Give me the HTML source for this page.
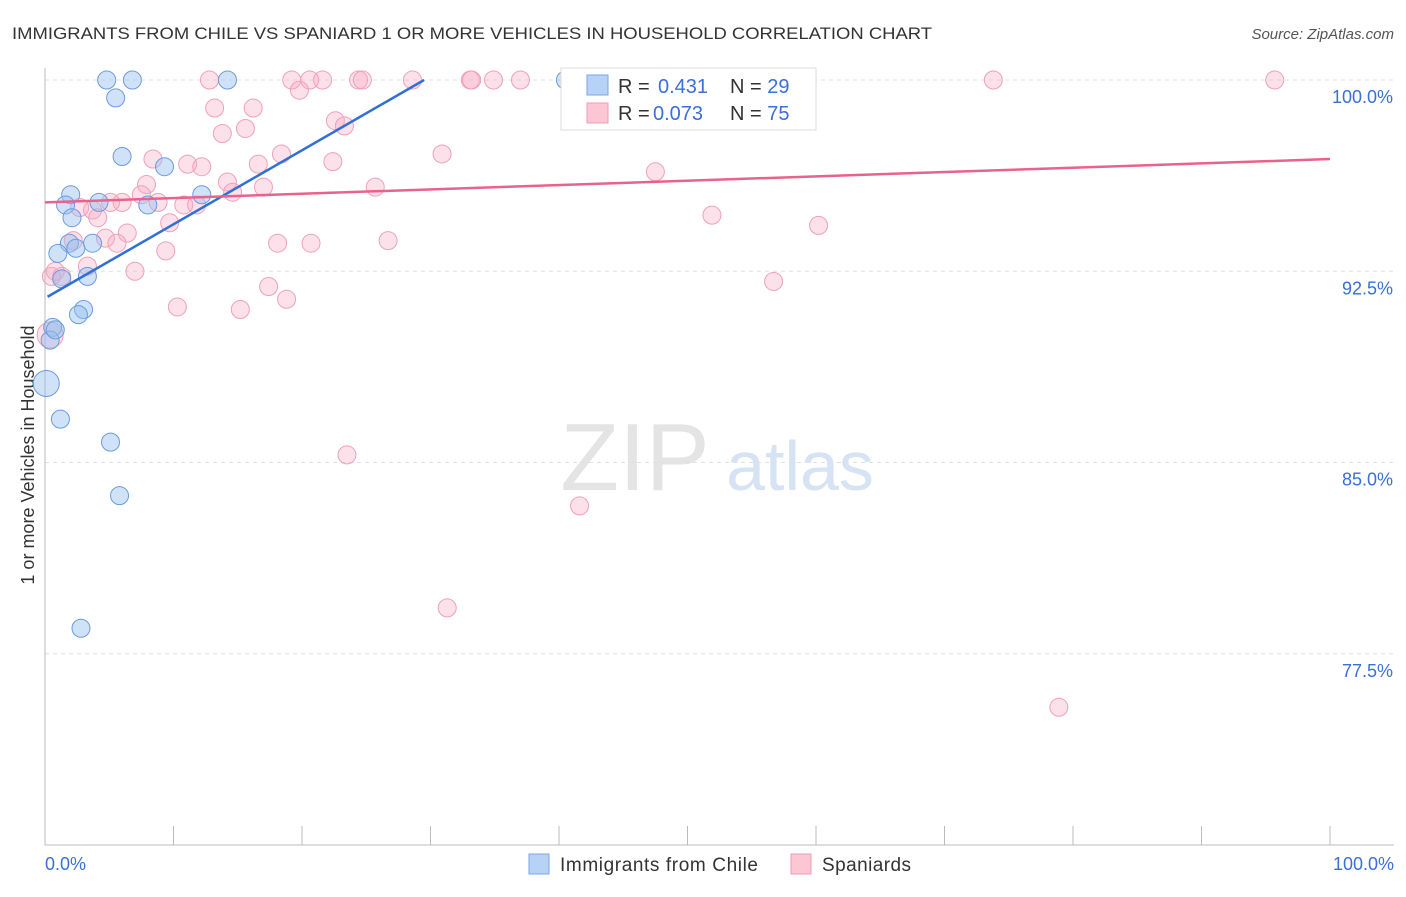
<!DOCTYPE html>
<html><head><meta charset="utf-8"><style>
body{margin:0;background:#fff;font-family:"Liberation Sans",sans-serif;}
svg text{font-family:"Liberation Sans",sans-serif;}
</style></head><body>
<svg id="chart" width="1406" height="892" xmlns="http://www.w3.org/2000/svg">
<text x="12" y="39" font-size="17" fill="#333" textLength="920" lengthAdjust="spacingAndGlyphs">IMMIGRANTS FROM CHILE VS SPANIARD 1 OR MORE VEHICLES IN HOUSEHOLD CORRELATION CHART</text>
<text x="1394" y="39" font-size="15" fill="#555" font-style="italic" text-anchor="end">Source: ZipAtlas.com</text>
<text x="635" y="490" font-size="96" fill="#e4e4e4" font-family="Liberation Serif" text-anchor="middle">ZIP</text>
<text x="800" y="490" font-size="70" fill="#d5e3f5" text-anchor="middle">atlas</text>
<text transform="translate(34,455) rotate(-90)" font-size="18" fill="#333" text-anchor="middle">1 or more Vehicles in Household</text>
<g id="grid"></g><g id="pts"></g><g id="lines"></g>
<g>
<rect x="561" y="68" width="255" height="62" fill="#fff" stroke="#ddd"/>
<rect x="587" y="75" width="21" height="20" fill="#b8d2f5" stroke="#7aa6e3"/>
<rect x="587" y="103" width="21" height="20" fill="#fcc6d5" stroke="#f19ab5"/>
<text x="618" y="93" font-size="20" fill="#333">R = <tspan x="658" fill="#3a6fd8">0.431</tspan></text>
<text x="730" y="93" font-size="20" fill="#333">N = <tspan fill="#3a6fd8">29</tspan></text>
<text x="618" y="120" font-size="20" fill="#333">R = <tspan x="653" fill="#3a6fd8">0.073</tspan></text>
<text x="730" y="120" font-size="20" fill="#333">N = <tspan fill="#3a6fd8">75</tspan></text>
</g>
<g>
<rect x="529" y="854" width="20" height="20" fill="#b8d2f5" stroke="#7aa6e3"/>
<text x="560" y="871" font-size="19" fill="#333" textLength="198">Immigrants from Chile</text>
<rect x="791" y="854" width="20" height="20" fill="#fcc6d5" stroke="#f19ab5"/>
<text x="822" y="871" font-size="19" fill="#333" textLength="89">Spaniards</text>
</g>
<text x="45" y="870" font-size="18" fill="#3a6fd8">0.0%</text>
<text x="1394" y="870" font-size="18" fill="#3a6fd8" text-anchor="end">100.0%</text>
</svg>
<script>
const yTicks=[100,92.5,85,77.5];
const yTickLabels=["100.0%","92.5%","85.0%","77.5%"];
const xTicks=[0,10,20,30,40,50,60,70,80,90,100];
const chileX=[4.8,6.8,14.2,40.5,5.5,6.0,9.3,2.0,8.0,4.2,1.6,12.2,2.1,1.9,3.7,2.4,1.0,3.3,1.3,3.0,2.6,0.6,0.4,0.1,1.2,5.1,5.8,2.8,0.8];
const chileY=[100,100,100,100,99.3,97.0,96.6,95.5,95.1,95.2,95.1,95.5,94.6,93.6,93.6,93.4,93.2,92.3,92.2,91.0,90.8,90.3,89.8,88.1,86.7,85.8,83.7,78.5,90.2];
const chileR=[9,9,9,9,9,9,9,9,9,9,9,9,9,9,9,9,9,9,9,9,9,9,9,13,9,9,9,9,9];
const spX=[12.8,19.2,20.6,21.6,24.4,24.7,28.6,33.1,33.2,34.9,37.0,45.3,47.5,58.8,73.8,95.7,19.8,13.2,16.2,13.8,15.6,22.6,23.3,8.4,11.1,12.2,18.4,16.6,22.4,30.9,47.5,7.9,17.0,25.7,14.2,14.6,7.5,6.0,8.8,10.8,11.8,2.7,3.7,5.1,4.1,51.9,60.2,6.4,4.7,2.2,5.6,9.7,9.4,18.1,20.7,26.7,3.3,7.0,17.4,18.8,15.2,10.3,1.3,0.5,0.8,0.4,56.7,23.5,41.6,31.3,78.9];
const spY=[100,100,100,100,100,100,100,100,100,100,100,100,100,100,100,100,99.6,98.9,98.9,97.9,98.1,98.4,98.2,96.9,96.7,96.6,97.1,96.7,96.8,97.1,96.4,95.9,95.8,95.8,96.0,95.6,95.5,95.2,95.2,95.1,95.1,95.0,94.9,95.2,94.6,94.7,94.3,94.0,93.8,93.7,93.6,94.4,93.3,93.6,93.6,93.7,92.7,92.5,91.9,91.4,91.0,91.1,92.3,92.3,92.5,90.0,92.1,85.3,83.3,79.3,75.4];
const spR=[9,9,9,9,9,9,9,9,9,9,9,9,9,9,9,9,9,9,9,9,9,9,9,9,9,9,9,9,9,9,9,9,9,9,9,9,9,9,9,9,9,9,9,9,9,9,9,9,9,9,9,9,9,9,9,9,9,9,9,9,9,9,9,9,9,13,9,9,9,9,9];
const chileLine=[[0.2,91.5],[29.5,100]];
const spLine=[[0,95.2],[100,96.9]];
const X=v=>45+v*12.85, Y=v=>80+(100-v)*25.5;
const ns="http://www.w3.org/2000/svg";
function mk(t,a,p){const e=document.createElementNS(ns,t);for(const k in a)e.setAttribute(k,a[k]);p.appendChild(e);return e;}
const grid=document.getElementById('grid');
yTicks.forEach((t,i)=>{
 const l=mk('line',{x1:45,x2:1394,y1:Y(t),y2:Y(t),stroke:'#e0e0e0','stroke-dasharray':'4,4'},grid);
 
 
 const tx=mk('text',{x:1393,y:Y(t)+23,'font-size':18,fill:'#3a6fd8','text-anchor':'end'},grid);
 tx.textContent=yTickLabels[i];
 
 
});
const ax=mk('line',{x1:45,x2:45,y1:68,y2:845,stroke:'#bbb'},grid);


const bx=mk('line',{x1:45,x2:1394,y1:845,y2:845,stroke:'#bbb'},grid);


xTicks.forEach(t=>{
 const l=mk('line',{x1:X(t),x2:X(t),y1:826,y2:845,stroke:'#bbb'},grid);
 
 
});
const pts=document.getElementById('pts');
spX.forEach((v,i)=>{
 const c=mk('circle',{cx:X(v),cy:Y(spY[i]),r:spR[i],fill:'rgba(248,170,195,0.35)',stroke:'#f0a0b8','stroke-width':1},pts);
 
 
});
chileX.forEach((v,i)=>{
 const c=mk('circle',{cx:X(v),cy:Y(chileY[i]),r:chileR[i],fill:'rgba(150,190,240,0.45)',stroke:'#6a9be0','stroke-width':1},pts);
 
 
});
const lines=document.getElementById('lines');
const l1=mk('line',{x1:X(chileLine[0][0]),y1:Y(chileLine[0][1]),x2:X(chileLine[1][0]),y2:Y(chileLine[1][1]),stroke:'#2f6fd6','stroke-width':2.5},lines);


const l2=mk('line',{x1:X(spLine[0][0]),y1:Y(spLine[0][1]),x2:X(spLine[1][0]),y2:Y(spLine[1][1]),stroke:'#e8628c','stroke-width':2.5},lines);


</script>
</body></html>
